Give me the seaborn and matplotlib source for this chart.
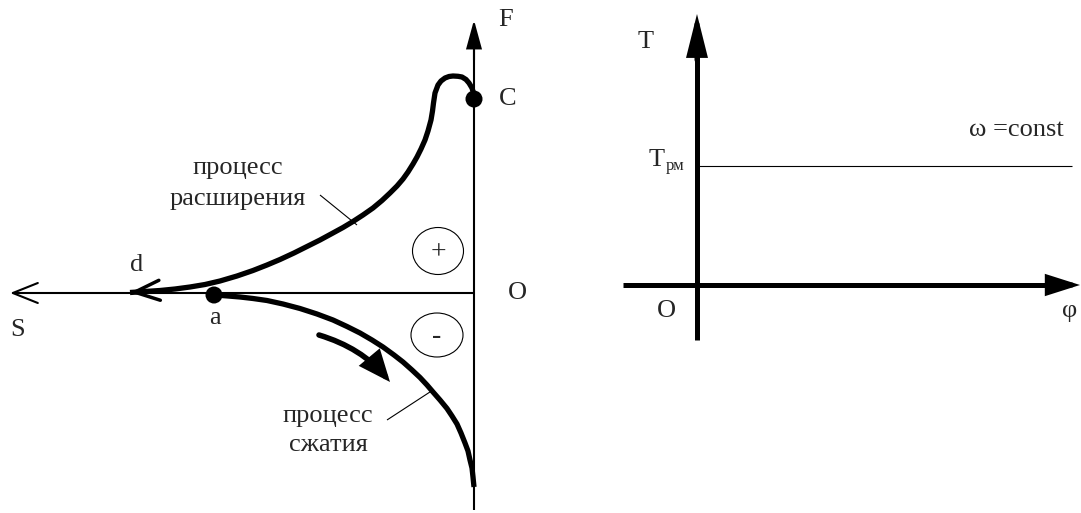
import matplotlib.pyplot as plt
import seaborn as sns
from matplotlib.patches import Ellipse, FancyArrowPatch

# All positions are in picture pixels (x to the right, y downward)

# expansion curve d -> C (with the small hook next to C)
expansion_x = [130, 145, 160, 175, 190, 205, 220, 237, 253, 267, 280, 294, 307,
               320, 332, 343, 353, 363, 373, 382, 390, 397, 403, 408, 413, 417,
               421, 425, 428, 431, 432.5, 433.5, 435, 438, 441, 445, 449, 453,
               458, 462, 466, 469, 472, 473.5, 474]
expansion_y = [292.5, 291.5, 290.5, 289, 287, 284.5, 281, 276, 270.5, 265,
               259.5, 253, 246.5, 240, 233.5, 227.5, 221.5, 215, 208, 200.5,
               193, 186, 179, 172, 164, 157, 149, 140, 131, 120, 111, 103, 93,
               85, 81, 78, 76.5, 76, 76.3, 77, 79.5, 83, 88, 93, 99]

# compression curve a -> down to the F axis
compression_x = [215, 228, 240, 253, 267, 283, 300, 317, 333, 347, 360, 372,
                 383, 394, 403, 412, 420, 427, 433, 440, 447, 452, 457, 461,
                 465, 468, 470, 472, 473, 474]
compression_y = [295, 296, 297, 298.5, 300.5, 304, 308.5, 314, 320, 326.5, 333,
                 340, 347, 355, 362, 370, 377.5, 385, 392, 400, 408.5, 416,
                 424, 433, 443, 451, 460, 468, 477, 487]

# named points
point_names = ['C', 'a']
point_x = [474, 214]
point_y = [99, 295]

# left diagram labels
left_labels = ['F', 'C', 'O', 'S', 'd', 'a']
left_label_x = [506, 508, 517, 18, 137, 215]
left_label_y = [20, 99, 293, 330, 265, 318]

# right diagram: constant torque line
torque_x = [697, 1072]
torque_y = [166, 166]

sns.set_style("white")
plt.rcParams['font.family'] = ['Liberation Serif', 'DejaVu Serif']

fig = plt.figure(figsize=(10.81, 5.13), dpi=100)
ax = fig.add_axes([0, 0, 1, 1])
ax.set_xlim(0, 1081)
ax.set_ylim(513, 0)
ax.axis('off')


def line(xs, ys, lw):
    sns.lineplot(x=xs, y=ys, sort=False, estimator=None, color='black',
                 lw=lw, ax=ax, solid_capstyle='butt', solid_joinstyle='round')


def arrow(start, end, style, lw, ms, rad=0.0):
    ax.add_patch(FancyArrowPatch(start, end, arrowstyle=style, lw=lw,
                                 color='black', mutation_scale=ms,
                                 shrinkA=0, shrinkB=0, joinstyle='miter',
                                 connectionstyle=f'arc3,rad={rad}'))


# ---- left diagram ----
# axes
line([474, 474], [510, 40], 1.5)
arrow((474, 60), (474, 20), '-|>,head_length=1.1,head_width=0.3', 1.5, 16)
arrow((474, 293), (10, 293), '->,head_length=1.0,head_width=0.4', 1.5, 18)

# process curves
line(expansion_x, expansion_y, 3.8)
line(compression_x, compression_y, 3.8)
arrow((150, 291), (130, 292.5), '->,head_length=1.0,head_width=0.4', 2.5, 18)

# points
sns.scatterplot(x=point_x, y=point_y, color='black', s=150, ax=ax, zorder=5,
                edgecolor='none')

# direction arrow along compression
arrow((319, 335), (390, 382), '-|>,head_length=0.9,head_width=0.38', 4, 18,
      rad=-0.15)

# + / - circles
ax.add_patch(Ellipse((438, 251), 51, 47, fill=False, lw=0.8, color='black'))
ax.add_patch(Ellipse((437, 335), 52, 44, fill=False, lw=0.8, color='black'))
ax.text(438, 253, '+', ha='center', va='center', fontsize=20)
ax.text(437, 337, '-', ha='center', va='center', fontsize=20)

# leader lines
line([320, 357], [195, 225], 0.8)
line([387, 433], [420, 390], 0.8)

ax.text(238, 168, 'процесс', ha='center', va='center', fontsize=19)
ax.text(238, 199, 'расширения', ha='center', va='center', fontsize=19)
ax.text(328, 416, 'процесс', ha='center', va='center', fontsize=19)
ax.text(328, 445, 'сжатия', ha='center', va='center', fontsize=19)

for name, x, y in zip(left_labels, left_label_x, left_label_y):
    ax.text(x, y, name, ha='center', va='center', fontsize=19)

# ---- right diagram ----
line([697, 697], [340, 40], 3.6)
arrow((697, 60), (697, 14), '-|>,head_length=1.4,head_width=0.35', 3.6, 16)
line([623, 1060], [285, 285], 3.6)
arrow((1050, 285), (1080, 285), '-|>,head_length=1.1,head_width=0.35', 3.6, 16)
line(torque_x, torque_y, 0.8)

ax.text(646, 42, 'T', ha='center', va='center', fontsize=19)
ax.text(657, 160, 'T', ha='center', va='center', fontsize=19)
ax.text(675, 166, 'рм', ha='center', va='center', fontsize=12)
ax.text(1016, 130, 'ω =const', ha='center', va='center', fontsize=19)
ax.text(666, 311, 'O', ha='center', va='center', fontsize=19)
ax.text(1070, 311, 'φ', ha='center', va='center', fontsize=19)

fig.savefig('out.png', dpi=100)
